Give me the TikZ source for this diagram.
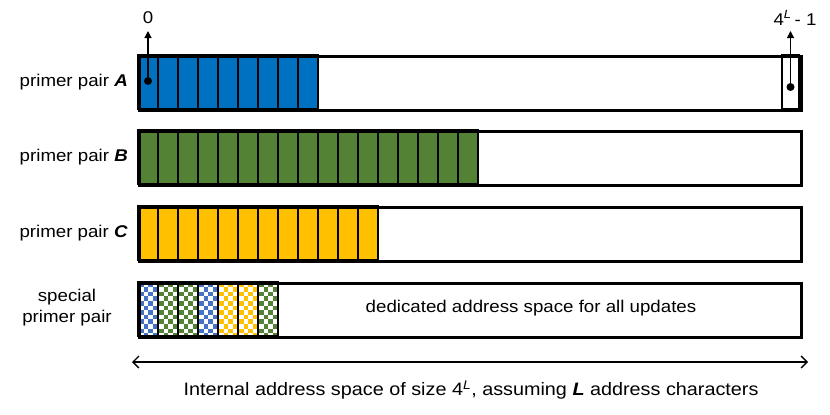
\documentclass[tikz,border=0pt]{standalone}
\usepackage{fontspec}
\setmainfont{Liberation Sans}[FakeStretch=1.1]
\usetikzlibrary{arrows.meta}
\definecolor{cblue}{HTML}{0070C0}
\definecolor{cgreen}{HTML}{548235}
\definecolor{cyellow}{HTML}{FFC000}
\definecolor{lblue}{HTML}{4472C4}
\tikzset{
  bar/.style={draw=black, line width=3.2pt, fill=none},
  cellbox/.style={draw=black, line width=2.4pt},
  lab/.style={font=\fontsize{17}{20}\selectfont, inner sep=0pt},
  dotnode/.style={circle, fill=black, inner sep=0pt, minimum size=8pt},
  ptr/.style={-{Triangle[length=7pt,width=7pt]}, line width=1.2pt},
}
\newcommand\cellrow[3]{% y top, count, colour
  \foreach \i in {1,...,#2}{
    \filldraw[cellbox, fill=#3] ({138+20*(\i-1)},#1) rectangle ({138+20*\i},{#1+54});
  }
}
\newcommand\checkcell[2]{% index (0-based), colour
  \begin{scope}
    \clip ({138+20*#1},282) rectangle ({158+20*#1},336);
    \fill[white] ({138+20*#1},282) rectangle ({158+20*#1},336);
    \foreach \r in {0,...,11}{
      \foreach \c in {0,...,4}{
        \pgfmathtruncatemacro\myparity{mod(\r+\c,2)}
        \ifnum\myparity=0
          \fill[#2] ({139+20*#1+4.6*\c},{282.5+4.6*\r}) rectangle ++(4.6,4.6);
        \fi
      }
    }
  \end{scope}
  \draw[cellbox] ({138+20*#1},282) rectangle ({158+20*#1},336);
}
\begin{document}
\begin{tikzpicture}[x=1pt,y=-1pt]
\useasboundingbox[fill=white] (0,0) rectangle (830,415);

% row A
\cellrow{55}{9}{cblue}
\draw[line width=1.3pt] (782,55) rectangle (799,109);
\node[bar, minimum width=662pt, minimum height=54pt, anchor=north west, inner sep=0pt] (barA) at (138,55) {};
% row B
\cellrow{130}{17}{cgreen}
\node[bar, minimum width=662pt, minimum height=54pt, anchor=north west, inner sep=0pt] (barB) at (138,130) {};
% row C
\cellrow{206}{12}{cyellow}
\node[bar, minimum width=662pt, minimum height=54pt, anchor=north west, inner sep=0pt] (barC) at (138,206) {};
% special row
\checkcell{0}{lblue}
\checkcell{1}{cgreen}
\checkcell{2}{cgreen}
\checkcell{3}{lblue}
\checkcell{4}{cyellow}
\checkcell{5}{cyellow}
\checkcell{6}{cgreen}
\node[bar, minimum width=662pt, minimum height=54pt, anchor=north west, inner sep=0pt] (barS) at (138,282) {};

% labels
\node[lab, anchor=east] (labA) at (128,82) {primer pair \textbf{\textit{A}}};
\node[lab, anchor=east] (labB) at (128,157) {primer pair \textbf{\textit{B}}};
\node[lab, anchor=east] (labC) at (128,233) {primer pair \textbf{\textit{C}}};
\node[lab, align=center] (labS) at (67,308) {special\\[1pt]primer pair};
\node[lab] (dedic) at (531,308) {dedicated address space for all updates};

% pointers
\node[dotnode] (d0) at (148,81) {};
\node[lab] (zero) at (148,18) {0};
\draw[ptr] (d0.center) -- (148,31);
\node[dotnode] (d1) at (790.5,87) {};
\node[lab] (last) at (795,18) {4\textsuperscript{\itshape L}\,- 1};
\draw[ptr] (d1.center) -- (790.5,31);

% bottom axis
\coordinate (axl) at (132,362);
\coordinate (axr) at (808,362);
\draw[{Straight Barb[length=6pt,width=12pt]}-{Straight Barb[length=6pt,width=12pt]}, line width=1.3pt] (axl) -- (axr);
\node[lab, font=\fontsize{18}{21}\selectfont] (axlab) at (471,390) {Internal address space of size 4\textsuperscript{\itshape L}, assuming \textbf{\textit{L}} address characters};
\end{tikzpicture}
\end{document}
